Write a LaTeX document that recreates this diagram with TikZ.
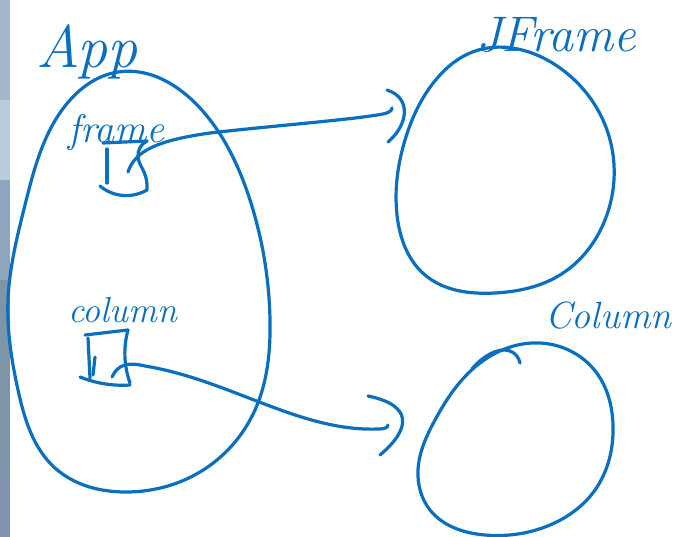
\documentclass[tikz,border=0pt]{standalone}
\usetikzlibrary{hobby}
\definecolor{ink}{HTML}{0B6FC0}
\definecolor{edgeA}{HTML}{A6B6CC}
\definecolor{edgeB}{HTML}{B8CCD9}
\definecolor{edgeC}{HTML}{8FA5BD}
\definecolor{edgeD}{HTML}{7E95A8}
\definecolor{edgeE}{HTML}{8293AE}
\tikzset{
  pen/.style={draw=ink, line width=3.2pt, line cap=round, line join=round},
  label/.style={text=ink, inner sep=0pt, anchor=base west, font=\itshape},
}
\begin{document}
\begin{tikzpicture}[x=1pt, y=-1pt]
\useasboundingbox (0,0) rectangle (674,537);
\fill[white] (0,0) rectangle (674,537);

% window edge on the left
\fill[edgeA] (0,0) rectangle (10,100);
\fill[edgeB] (0,100) rectangle (10,180);
\fill[edgeC] (0,180) rectangle (10,280);
\fill[edgeD] (0,280) rectangle (10,470);
\fill[edgeE] (0,470) rectangle (10,537);

% labels
\node[label, font=\itshape\fontsize{60}{60}\selectfont] (applbl) at (36,68) {App};
\node[label, font=\itshape\fontsize{40}{40}\selectfont] (framelbl) at (68,143) {frame};
\node[label, font=\itshape\fontsize{36}{36}\selectfont] (columnlbl) at (68,322) {column};
\node[label, font=\itshape\fontsize{50}{50}\selectfont] (jframelbl) at (476,52) {JFrame};
\node[label, font=\itshape\fontsize{38}{38}\selectfont] (Columnlbl) at (545,328) {Column};

% App object
\draw[pen, use Hobby shortcut, closed=true]
  (118,72) .. (200,108) .. (250,200) .. (270,320) .. (255,410) .. (200,472)
  .. (127,492) .. (55,468) .. (18,390) .. (8,300) .. (25,205) .. (62,110);

% JFrame object
\draw[pen, use Hobby shortcut, closed=true]
  (470,53) .. (560,68) .. (607,130) .. (605,220) .. (560,275) .. (495,293)
  .. (425,275) .. (397,215) .. (405,140) .. (440,75);

% Column object
\draw[pen, use Hobby shortcut, closed=true]
  (540,343) .. (596,372) .. (613,425) .. (595,490) .. (545,527) .. (485,535)
  .. (430,510) .. (418,470) .. (435,420) .. (475,367);
\draw[pen, use Hobby shortcut] (472,369) .. (490,354) .. (510,351) .. (520,363);

% frame field box
\draw[pen] (103,143) -- (147,141);
\draw[pen] (107,149) -- (107,183);
\draw[pen, use Hobby shortcut] (147,141) .. (138,157) .. (144,172) .. (147,190);
\draw[pen, use Hobby shortcut] (100,186) .. (115,194) .. (147,190);

% column field box
\draw[pen] (85,335) -- (128,330);
\draw[pen] (88,338) -- (90,378);
\draw[pen] (95,357) -- (93,375);
\draw[pen, use Hobby shortcut] (128,330) .. (125,348) .. (130,383);
\draw[pen, use Hobby shortcut] (80,377) .. (100,383) .. (130,385);

% reference endpoints
\coordinate (frameptr) at (128,172);
\coordinate (jframein) at (392,108);
\coordinate (columnptr) at (112,377);
\coordinate (columnin) at (388,425);

% frame -> JFrame
\draw[pen] (frameptr) .. controls (135,150) and (160,140) .. (210,133)
  .. controls (280,125) and (350,120) .. (383,114)
  .. controls (388,113) and (392,111) .. (jframein);
\draw[pen] (387,90) .. controls (412,98) and (408,125) .. (388,142);

% column -> Column
\draw[pen] (columnptr) .. controls (118,364) and (128,362) .. (145,366)
  .. controls (230,380) and (300,432) .. (378,429)
  .. controls (384,429) and (388,428) .. (columnin);
\draw[pen] (368,396) .. controls (412,405) and (412,428) .. (380,455);
\end{tikzpicture}
\end{document}
